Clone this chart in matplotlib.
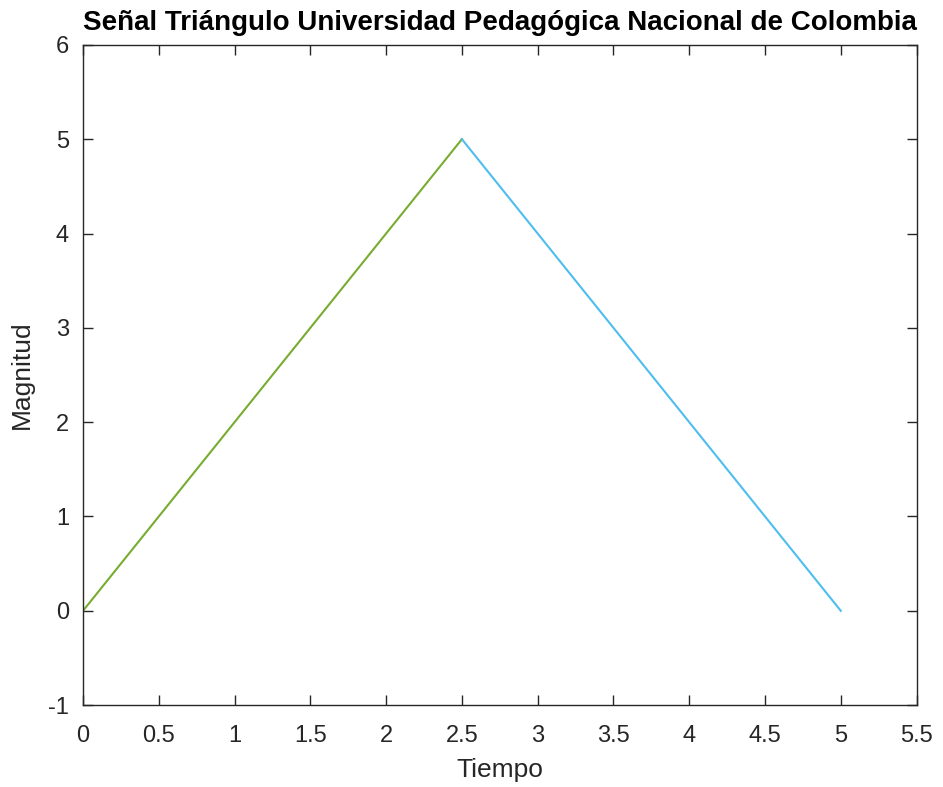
import matplotlib.pyplot as plt

# Señal triángulo: rampa de subida y de bajada
t_sube = [0, 2.5]
y_sube = [0, 5]
t_baja = [2.5, 5]
y_baja = [5, 0]

xticks = [0, 0.5, 1, 1.5, 2, 2.5, 3, 3.5, 4, 4.5, 5, 5.5]
xtick_labels = ['0', '0.5', '1', '1.5', '2', '2.5', '3', '3.5', '4', '4.5', '5', '5.5']
yticks = [-1, 0, 1, 2, 3, 4, 5, 6]
ytick_labels = ['-1', '0', '1', '2', '3', '4', '5', '6']

plt.rcParams['font.family'] = ['Liberation Sans', 'DejaVu Sans']
plt.rcParams['axes.unicode_minus'] = False

fig = plt.figure(figsize=(9.43, 7.87), dpi=100)
ax = fig.add_axes([0.088, 0.104, 0.884, 0.839])

ax.plot(t_sube, y_sube, color='#77AC30', linewidth=1.5)
ax.plot(t_baja, y_baja, color='#4DBEEE', linewidth=1.5)

ax.set_xlim(0, 5.5)
ax.set_ylim(-1, 6)
ax.set_xticks(xticks)
ax.set_xticklabels(xtick_labels)
ax.set_yticks(yticks)
ax.set_yticklabels(ytick_labels)

ax.tick_params(direction='in', top=True, right=True, length=7, width=1.0,
               colors='#262626', labelsize=17)
ax.tick_params(axis='x', pad=14)
ax.tick_params(axis='y', pad=10)
for s in ax.spines.values():
    s.set_color('#262626')
    s.set_linewidth(1.0)

ax.set_xlabel('Tiempo', fontsize=19, color='#262626', labelpad=8)
ax.set_ylabel('Magnitud', fontsize=19, color='#262626', labelpad=10)
ax.set_title('Señal Triángulo Universidad Pedagógica Nacional de Colombia',
             fontsize=20, fontweight='bold', color='black', pad=11)

fig.savefig('out.png', dpi=100)
